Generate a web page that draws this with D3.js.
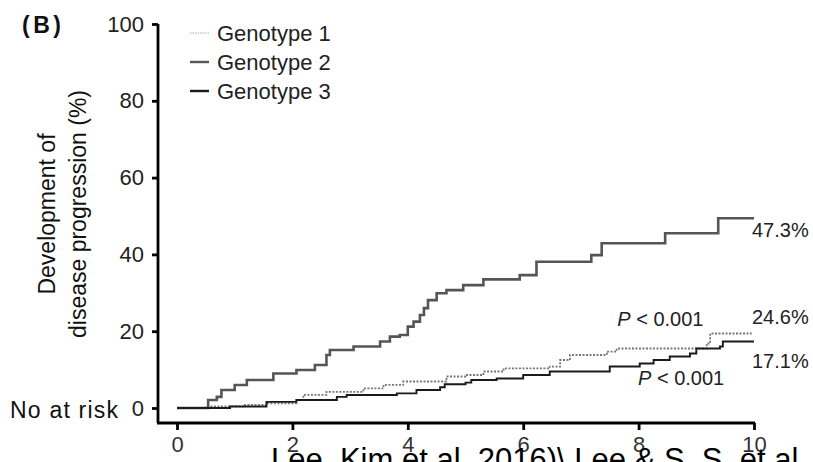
<!DOCTYPE html>
<html>
<head>
<meta charset="utf-8">
<script src="https://cdn.jsdelivr.net/npm/d3@7"></script>
<style>
  body { margin: 0; background: #fff; }
  text { font-family: "Liberation Sans", Arial, sans-serif; }
</style>
</head>
<body>
<svg id="chart" width="813" height="462"></svg>
<script>
const xTicks = [0, 2, 4, 6, 8, 10];
const yTicks = [0, 20, 40, 60, 80, 100];
const seriesNames = ["Genotype 1", "Genotype 2", "Genotype 3"];

// [years, % progressed] step points
const genotype1 = [[0,0],[0.5,0.4],[1.15,0.8],[1.55,1.2],[2.07,2.1],[2.19,3.4],[2.59,4.2],[3.23,5.1],[3.58,6.0],[3.92,6.9],[4.67,8.2],[5.0,8.6],[5.31,9.5],[5.66,10.3],[6.46,10.8],[6.64,12.5],[6.81,13.8],[7.45,14.7],[7.62,15.5],[9.18,16.8],[9.24,19.4],[9.96,19.4]];
const genotype2 = [[0,0],[0.54,2.1],[0.69,2.9],[0.77,4.7],[1.0,6.0],[1.21,7.3],[1.67,9.0],[2.07,9.9],[2.39,11.2],[2.59,13.8],[2.65,15.1],[3.06,16.0],[3.52,17.3],[3.69,18.6],[3.86,19.0],[4.0,21.2],[4.1,22.5],[4.21,24.2],[4.28,26],[4.35,28.1],[4.5,29.9],[4.67,30.7],[4.96,32.0],[5.31,33.5],[5.94,34.6],[6.23,38.1],[7.18,39.8],[7.36,42.9],[8.46,45.5],[9.38,49.4],[10,49.4]];
const genotype3 = [[0,0],[0.92,0.4],[1.55,1.6],[2.07,2.1],[2.77,2.9],[2.94,3.4],[3.81,3.8],[4.15,4.7],[4.56,5.4],[4.64,6.2],[5.0,6.6],[5.1,7.3],[5.54,7.7],[6.0,8.6],[6.46,9.5],[7.5,10.8],[8.02,11.6],[8.26,12.5],[8.54,13.4],[8.89,14.2],[9.0,15.5],[9.41,16.0],[9.46,17.3],[10,17.3]];

const endLabels = ["24.6%", "47.3%", "17.1%"];

const svg = d3.select("#chart");

const x = d3.scaleLinear().domain([0, 10]).range([177, 754]);
const y = d3.scaleLinear().domain([0, 100]).range([408, 24]);

const styles = [
  { stroke: "#777", width: 1.8, dash: "2,1.5" },
  { stroke: "#555", width: 2.6, dash: null },
  { stroke: "#1a1a1a", width: 1.9, dash: null }
];

// y axis
const yAxis = svg.append("g")
  .attr("transform", "translate(158,0)")
  .call(d3.axisLeft(y).tickValues(yTicks).tickSize(6).tickPadding(8));
yAxis.select(".domain").attr("d", "M0,24V423").attr("stroke", "#000").attr("stroke-width", 2.8);
yAxis.selectAll(".tick line").attr("stroke-width", 2.8);
yAxis.selectAll(".tick text").attr("font-size", 22).attr("fill", "#222")
  .style("font-family", "Liberation Sans, Arial, sans-serif");

// x axis
const xAxis = svg.append("g")
  .attr("transform", "translate(0,423)")
  .call(d3.axisBottom(x).tickValues(xTicks).tickSize(7).tickPadding(6));
xAxis.select(".domain").attr("d", "M157,0H755").attr("stroke", "#000").attr("stroke-width", 2.8);
xAxis.selectAll(".tick line").attr("stroke-width", 2.8);
xAxis.selectAll(".tick text").attr("font-size", 22).attr("fill", "#333")
  .style("font-family", "Liberation Sans, Arial, sans-serif");

// y title
const yt = svg.append("text")
  .attr("transform", "translate(55,214) rotate(-90)")
  .attr("text-anchor", "middle")
  .attr("font-size", 23).attr("fill", "#111");
yt.append("tspan").attr("x", 0).attr("dy", 0).text("Development of");
yt.append("tspan").attr("x", 0).attr("dy", 31).text("disease progression (%)");

svg.append("text").attr("x", 22).attr("y", 33)
  .attr("font-size", 23).attr("font-weight", "bold").attr("fill", "#111")
  .attr("textLength", 39).text("(B)");

svg.append("text").attr("x", 10).attr("y", 418)
  .attr("font-size", 23).attr("fill", "#111").attr("textLength", 108)
  .text("No at risk");

// curves
const line = d3.line()
  .x(d => x(d[0]))
  .y(d => y(d[1]))
  .curve(d3.curveStepAfter);

[genotype1, genotype2, genotype3].forEach((s, i) => {
  svg.append("path")
    .datum(s)
    .attr("fill", "none")
    .attr("stroke", styles[i].stroke)
    .attr("stroke-width", styles[i].width)
    .attr("stroke-dasharray", styles[i].dash)
    .attr("d", line);
});

// legend
seriesNames.forEach((name, i) => {
  const ly = 33 + i * 29;
  svg.append("line")
    .attr("x1", 190).attr("x2", 209).attr("y1", ly).attr("y2", ly)
    .attr("stroke", i === 0 ? "#aaa" : styles[i].stroke)
    .attr("stroke-width", i === 0 ? 1 : 2.4)
    .attr("stroke-dasharray", i === 0 ? "1.5,1" : null);
  svg.append("text").attr("x", 217).attr("y", ly + 8)
    .attr("font-size", 22).attr("fill", "#222").text(name);
});

// end labels
const ends = [genotype1, genotype2, genotype3];
const labelOffsets = [-10, 19, 26];
ends.forEach((s, i) => {
  const last = s[s.length - 1];
  svg.append("text")
    .attr("x", 752)
    .attr("y", y(last[1]) + labelOffsets[i])
    .attr("font-size", 20).attr("fill", "#222")
    .text(endLabels[i]);
});

// p-values
function pLabel(px, py) {
  const t = svg.append("text").attr("x", px).attr("y", py)
    .attr("font-size", 20).attr("fill", "#222");
  t.append("tspan").attr("font-style", "italic").text("P");
  t.append("tspan").text(" < 0.001");
}
pLabel(x(7.63), y(21.4));
pLabel(x(7.99), y(6.0));

// cropped caption at the bottom of the page
svg.append("text").attr("x", 271).attr("y", 470)
  .attr("font-size", 31).attr("fill", "#000")
  .text("Lee, Kim et al. 2016)\\ Lee & S. S. et al. (");
</script>
</body>
</html>
